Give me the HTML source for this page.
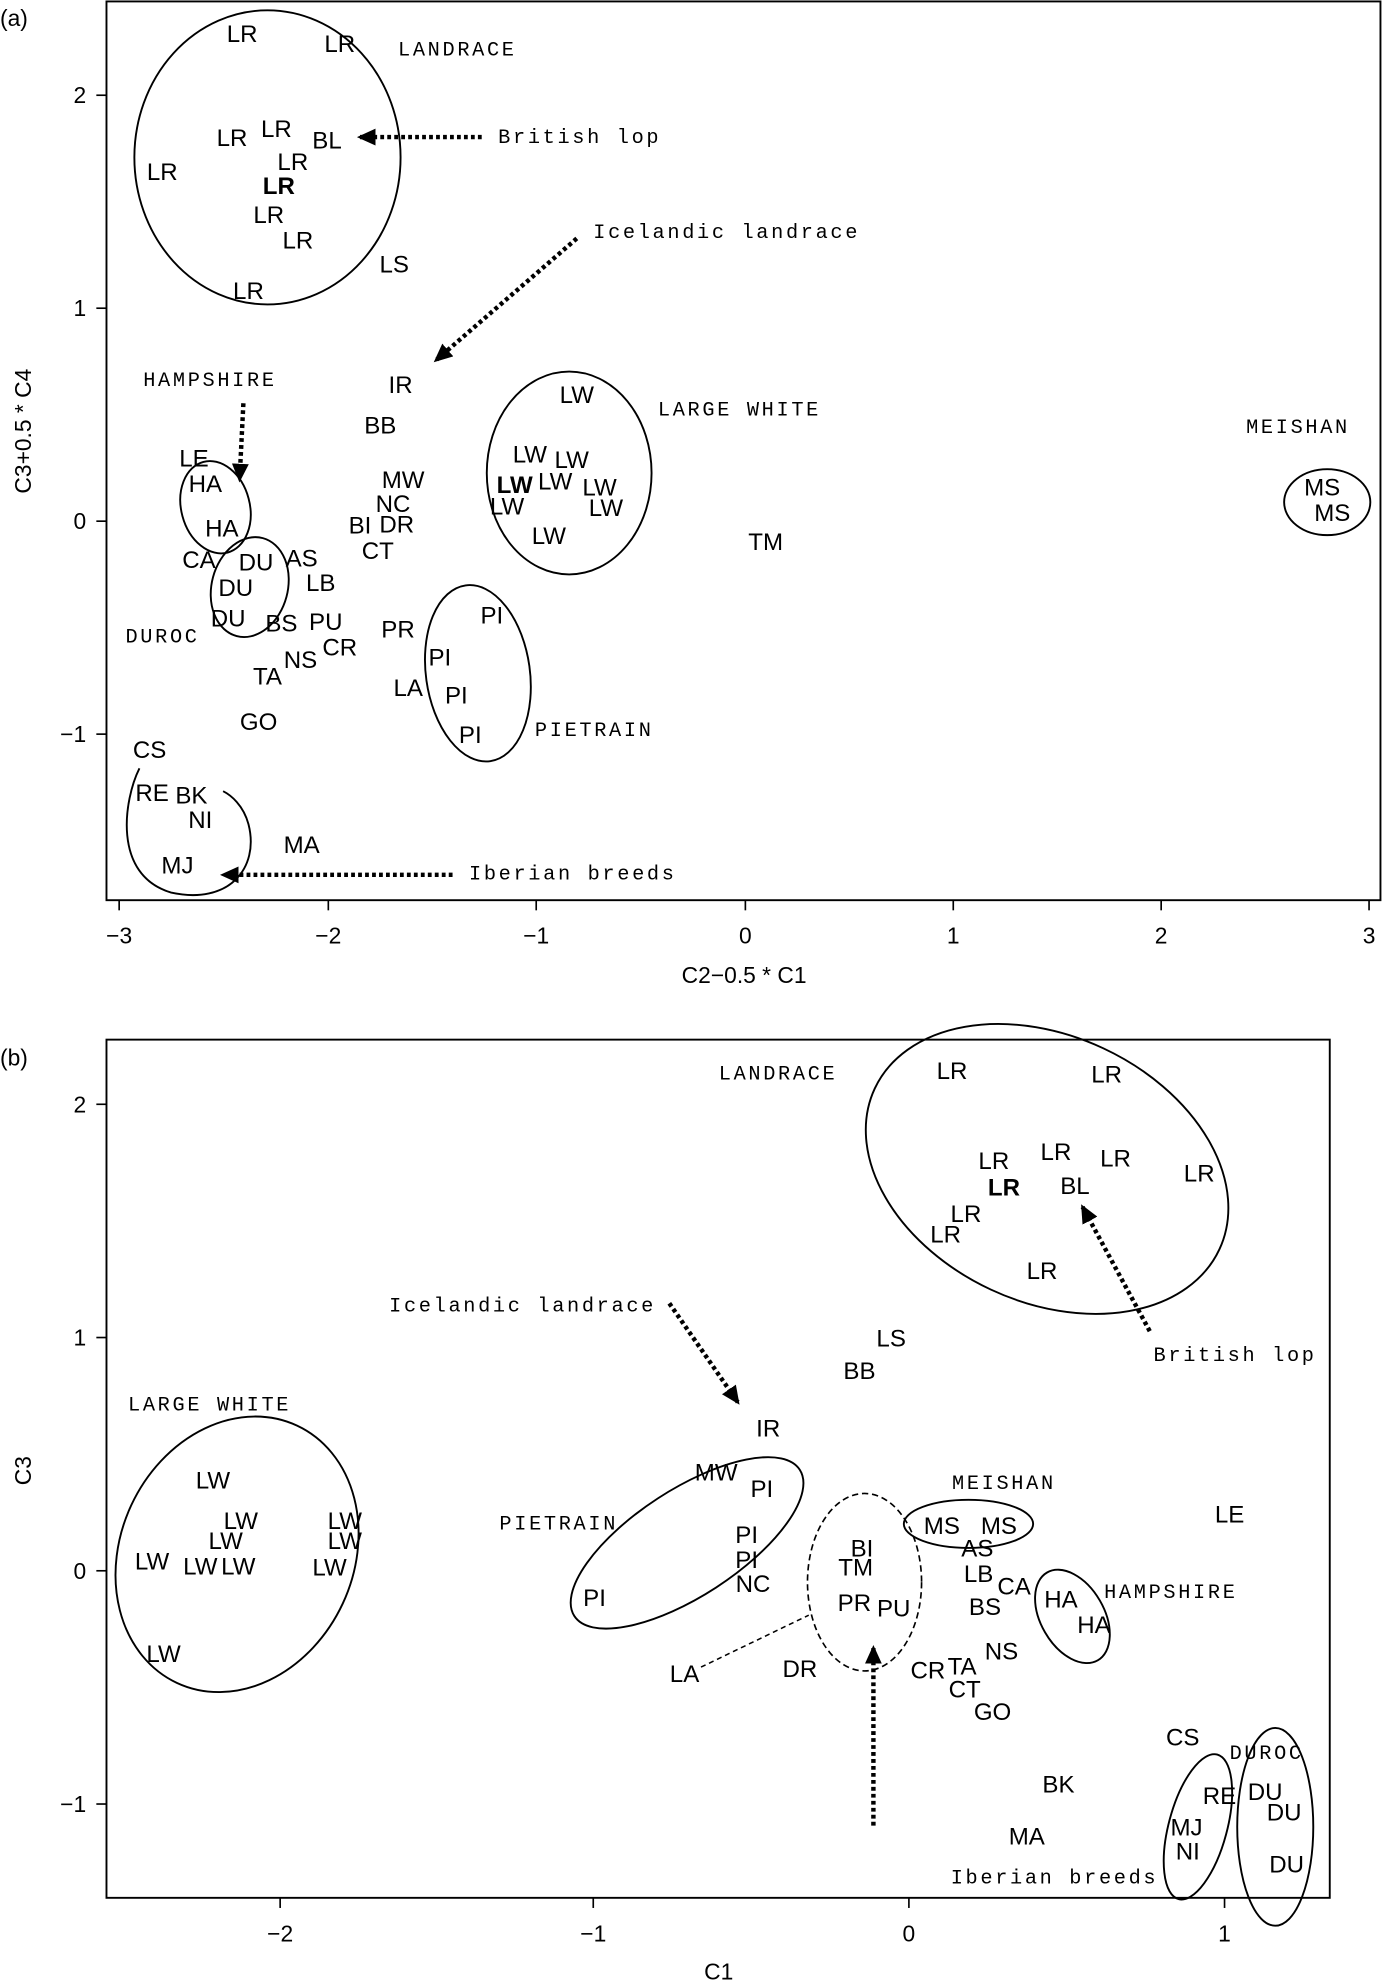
<!DOCTYPE html>
<html><head><meta charset="utf-8"><style>
html,body{margin:0;padding:0;background:#fff}
svg{display:block}
.p{font-family:"Liberation Sans",sans-serif;font-size:19px;text-anchor:middle;dominant-baseline:central;fill:#000}
.b{font-weight:bold}
.m{font-family:"Liberation Mono",monospace;font-size:16px;letter-spacing:2.1px;fill:#000;dominant-baseline:central}
.t{font-family:"Liberation Sans",sans-serif;font-size:18px;fill:#000;dominant-baseline:central}
.e{fill:none;stroke:#000;stroke-width:1.5}
.ar{stroke:#000;stroke-width:3.5;stroke-dasharray:3 2.5;fill:none}
</style></head><body>
<svg width="1383" height="1988" viewBox="0 0 1091 1568" xmlns="http://www.w3.org/2000/svg">
<defs><marker id="ah" markerWidth="5" markerHeight="5" refX="3.5" refY="2.5" orient="auto" markerUnits="strokeWidth"><path d="M0,0.6 L4.2,2.5 L0,4.4 z" fill="#000"/></marker></defs>
<!-- Panel a -->
<text class="t" x="0" y="14">(a)</text>
<rect x="84" y="1" width="1005" height="709" fill="none" stroke="#000" stroke-width="1.5"/>
<g stroke="#000" stroke-width="1.3">
<line x1="94" y1="710" x2="94" y2="718"/><line x1="259" y1="710" x2="259" y2="718"/><line x1="423" y1="710" x2="423" y2="718"/><line x1="588" y1="710" x2="588" y2="718"/><line x1="752" y1="710" x2="752" y2="718"/><line x1="916" y1="710" x2="916" y2="718"/><line x1="1080" y1="710" x2="1080" y2="718"/>
<line x1="76" y1="75" x2="84" y2="75"/><line x1="76" y1="243" x2="84" y2="243"/><line x1="76" y1="411" x2="84" y2="411"/><line x1="76" y1="579" x2="84" y2="579"/>
</g>
<g class="t" text-anchor="middle">
<text x="94" y="738" text-anchor="middle">−3</text><text x="259" y="738" text-anchor="middle">−2</text><text x="423" y="738" text-anchor="middle">−1</text><text x="588" y="738" text-anchor="middle">0</text><text x="752" y="738" text-anchor="middle">1</text><text x="916" y="738" text-anchor="middle">2</text><text x="1080" y="738" text-anchor="middle">3</text>
<text x="68" y="75" text-anchor="end">2</text><text x="68" y="243" text-anchor="end">1</text><text x="68" y="411" text-anchor="end">0</text><text x="68" y="579" text-anchor="end">−1</text>
<text x="587" y="769" text-anchor="middle">C2−0.5 * C1</text>
<text x="18" y="340" text-anchor="middle" transform="rotate(-90 18 340)">C3+0.5 * C4</text>
</g>
<g class="p">
<text x="191" y="27">LR</text><text x="268" y="35">LR</text><text x="183" y="109">LR</text><text x="218" y="102">LR</text><text x="258" y="111">BL</text><text x="231" y="128">LR</text><text class="p b" x="220" y="147">LR</text><text x="128" y="136">LR</text><text x="212" y="170">LR</text><text x="235" y="190">LR</text><text x="196" y="230">LR</text><text x="311" y="209">LS</text>
<text x="316" y="304">IR</text><text x="300" y="336">BB</text><text x="153" y="362">LE</text><text x="162" y="382">HA</text><text x="175" y="417">HA</text><text x="318" y="379">MW</text><text x="310" y="398">NC</text><text x="284" y="415">BI</text><text x="313" y="414">DR</text><text x="298" y="435">CT</text><text x="157" y="442">CA</text><text x="202" y="444">DU</text><text x="238" y="441">AS</text><text x="186" y="464">DU</text><text x="253" y="460">LB</text><text x="180" y="488">DU</text><text x="222" y="492">BS</text><text x="257" y="491">PU</text><text x="314" y="497">PR</text><text x="268" y="511">CR</text><text x="237" y="521">NS</text><text x="211" y="534">TA</text><text x="322" y="543">LA</text><text x="204" y="570">GO</text><text x="118" y="592">CS</text><text x="120" y="626">RE</text><text x="151" y="628">BK</text><text x="158" y="647">NI</text><text x="140" y="683">MJ</text><text x="238" y="667">MA</text>
<text x="455" y="312">LW</text><text x="418" y="359">LW</text><text x="451" y="363">LW</text><text class="p b" x="406" y="383">LW</text><text x="438" y="380">LW</text><text x="473" y="385">LW</text><text x="400" y="400">LW</text><text x="478" y="401">LW</text><text x="433" y="423">LW</text><text x="604" y="428">TM</text>
<text x="388" y="486">PI</text><text x="347" y="519">PI</text><text x="360" y="549">PI</text><text x="371" y="580">PI</text><text x="1043" y="385">MS</text><text x="1051" y="405">MS</text>
</g>
<g class="m">
<text x="314" y="40">LANDRACE</text><text x="393" y="109">British lop</text><text x="468" y="184">Icelandic landrace</text><text x="113" y="301">HAMPSHIRE</text><text x="519" y="324">LARGE WHITE</text><text x="983" y="338">MEISHAN</text><text x="99" y="503">DUROC</text><text x="422" y="577">PIETRAIN</text><text x="370" y="690">Iberian breeds</text>
</g>
<ellipse class="e" cx="211" cy="124" rx="105" ry="116"/>
<ellipse class="e" cx="449" cy="373" rx="65" ry="80"/>
<ellipse class="e" cx="170" cy="400" rx="27" ry="37" transform="rotate(-15 170 400)"/>
<ellipse class="e" cx="197" cy="463" rx="30" ry="40" transform="rotate(15 197 463)"/>
<ellipse class="e" cx="377" cy="531" rx="41" ry="70" transform="rotate(-8 377 531)"/>
<ellipse class="e" cx="1047" cy="396" rx="34" ry="26"/>
<path class="e" d="M110,606 C98,630 88,690 135,704 C180,714 205,685 196,650 C192,635 182,627 176,624"/>
<line class="ar" x1="380" y1="108" x2="284" y2="108" marker-end="url(#ah)"/>
<line class="ar" x1="455" y1="188" x2="344" y2="284" marker-end="url(#ah)"/>
<line class="ar" x1="192" y1="318" x2="189" y2="378" marker-end="url(#ah)"/>
<line class="ar" x1="357" y1="690" x2="176" y2="690" marker-end="url(#ah)"/>

<!-- Panel b -->
<text class="t" x="0" y="834">(b)</text>
<rect x="84" y="820" width="965" height="677" fill="none" stroke="#000" stroke-width="1.5"/>
<g stroke="#000" stroke-width="1.3">
<line x1="221" y1="1497" x2="221" y2="1505"/><line x1="468" y1="1497" x2="468" y2="1505"/><line x1="717" y1="1497" x2="717" y2="1505"/><line x1="966" y1="1497" x2="966" y2="1505"/>
<line x1="76" y1="871" x2="84" y2="871"/><line x1="76" y1="1055" x2="84" y2="1055"/><line x1="76" y1="1239" x2="84" y2="1239"/><line x1="76" y1="1423" x2="84" y2="1423"/>
</g>
<g class="t">
<text x="221" y="1525" text-anchor="middle">−2</text><text x="468" y="1525" text-anchor="middle">−1</text><text x="717" y="1525" text-anchor="middle">0</text><text x="966" y="1525" text-anchor="middle">1</text>
<text x="68" y="871" text-anchor="end">2</text><text x="68" y="1055" text-anchor="end">1</text><text x="68" y="1239" text-anchor="end">0</text><text x="68" y="1423" text-anchor="end">−1</text>
<text x="567" y="1555" text-anchor="middle">C1</text>
<text x="18" y="1160" text-anchor="middle" transform="rotate(-90 18 1160)">C3</text>
</g>
<g class="p">
<text x="751" y="845">LR</text><text x="873" y="848">LR</text><text x="784" y="916">LR</text><text x="833" y="909">LR</text><text x="880" y="914">LR</text><text x="946" y="926">LR</text><text class="p b" x="792" y="937">LR</text><text x="848" y="936">BL</text><text x="762" y="958">LR</text><text x="746" y="974">LR</text><text x="822" y="1003">LR</text>
<text x="703" y="1056">LS</text><text x="678" y="1082">BB</text><text x="606" y="1127">IR</text><text x="565" y="1162">MW</text><text x="601" y="1175">PI</text><text x="589" y="1211">PI</text><text x="589" y="1231">PI</text><text x="594" y="1250">NC</text><text x="469" y="1261">PI</text>
<text x="168" y="1168">LW</text><text x="190" y="1200">LW</text><text x="272" y="1200">LW</text><text x="178" y="1216">LW</text><text x="272" y="1216">LW</text><text x="120" y="1232">LW</text><text x="158" y="1236">LW</text><text x="188" y="1236">LW</text><text x="260" y="1237">LW</text><text x="129" y="1305">LW</text>
<text x="680" y="1222">BI</text><text x="675" y="1237">TM</text><text x="674" y="1265">PR</text><text x="705" y="1269">PU</text><text x="743" y="1204">MS</text><text x="788" y="1204">MS</text><text x="771" y="1222">AS</text><text x="772" y="1242">LB</text><text x="800" y="1252">CA</text><text x="777" y="1268">BS</text><text x="837" y="1262">HA</text><text x="863" y="1282">HA</text><text x="970" y="1195">LE</text>
<text x="790" y="1303">NS</text><text x="732" y="1318">CR</text><text x="759" y="1315">TA</text><text x="761" y="1333">CT</text><text x="631" y="1317">DR</text><text x="540" y="1321">LA</text><text x="783" y="1351">GO</text>
<text x="933" y="1371">CS</text><text x="835" y="1408">BK</text><text x="962" y="1417">RE</text><text x="998" y="1414">DU</text><text x="1013" y="1430">DU</text><text x="936" y="1442">MJ</text><text x="937" y="1461">NI</text><text x="1015" y="1471">DU</text><text x="810" y="1449">MA</text>
</g>
<g class="m">
<text x="567" y="848">LANDRACE</text><text x="307" y="1031">Icelandic landrace</text><text x="910" y="1070">British lop</text><text x="101" y="1109">LARGE WHITE</text><text x="751" y="1171">MEISHAN</text><text x="394" y="1203">PIETRAIN</text><text x="871" y="1257">HAMPSHIRE</text><text x="970" y="1384">DUROC</text><text x="750" y="1482">Iberian breeds</text>
</g>
<ellipse class="e" cx="826" cy="922" rx="150" ry="105" transform="rotate(25 826 922)"/>
<ellipse class="e" cx="187" cy="1226" rx="92" ry="112" transform="rotate(25 187 1226)"/>
<ellipse class="e" cx="542" cy="1217" rx="106" ry="42" transform="rotate(-33 542 1217)"/>
<ellipse cx="682" cy="1248" rx="45" ry="70" fill="none" stroke="#000" stroke-width="1.3" stroke-dasharray="5 3"/>
<ellipse class="e" cx="764" cy="1202" rx="51" ry="19"/>
<ellipse class="e" cx="846" cy="1275" rx="25" ry="40" transform="rotate(-30 846 1275)"/>
<ellipse class="e" cx="945" cy="1441" rx="23" ry="59" transform="rotate(15 945 1441)"/>
<ellipse class="e" cx="1006" cy="1441" rx="30" ry="78"/>
<line class="ar" x1="528" y1="1028" x2="582" y2="1106" marker-end="url(#ah)"/>
<line class="ar" x1="907" y1="1050" x2="854" y2="952" marker-end="url(#ah)"/>
<line class="ar" x1="689" y1="1440" x2="689" y2="1300" marker-end="url(#ah)"/>
<line x1="553" y1="1315" x2="638" y2="1274" stroke="#000" stroke-width="1.2" stroke-dasharray="4 3"/>
</svg>
</body></html>
